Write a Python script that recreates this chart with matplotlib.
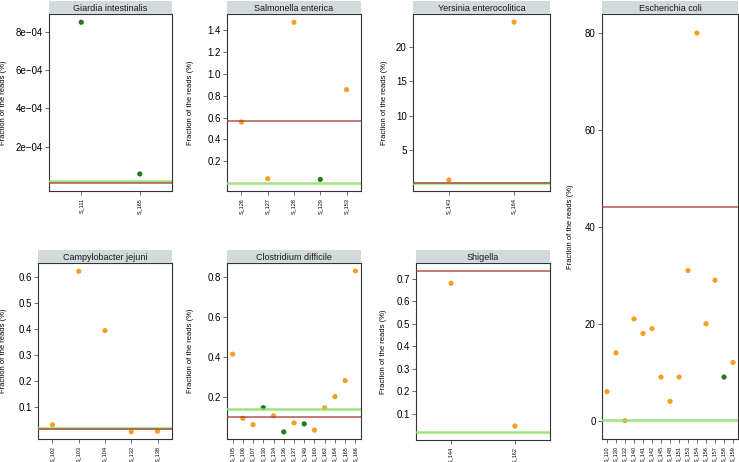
import matplotlib.pyplot as plt
from matplotlib.ticker import FuncFormatter

plt.rcParams['font.family'] = ['Liberation Sans', 'DejaVu Sans']

W, H = 739, 462

# colours
orange = '#f5a024'
dkgreen = '#237a1d'
red_col = '#a8392e'
green_col = '#8ee06a'
strip_col = '#d3dadb'

# ---- data (values in % of reads) ----
giardia_samples = ['S_111', 'S_165']
giardia_values = [8.49e-4, 0.58e-4]
giardia_groups = ['g', 'g']
giardia_red, giardia_green = 0.13e-4, 0.2e-4

salmonella_samples = ['S_126', 'S_127', 'S_128', 'S_129', 'S_153']
salmonella_values = [0.559, 0.041, 1.47, 0.035, 0.855]
salmonella_groups = ['o', 'o', 'o', 'g', 'o']
salmonella_red, salmonella_green = 0.571, 0.004

yersinia_samples = ['S_143', 'S_164']
yersinia_values = [0.56, 23.7]
yersinia_groups = ['o', 'o']
yersinia_red, yersinia_green = 0.17, 0.12

ecoli_samples = ['S_110', 'S_130', 'S_132', 'S_140', 'S_141', 'S_142', 'S_145', 'S_148',
                 'S_151', 'S_153', 'S_154', 'S_156', 'S_157', 'S_158', 'S_159']
ecoli_values = [6, 14, 0, 21, 18, 19, 9, 4, 9, 31, 80, 20, 29, 9, 12]
ecoli_groups = ['o'] * 13 + ['g', 'o']
ecoli_red, ecoli_green = 44.2, 0.1

campy_samples = ['S_102', 'S_103', 'S_104', 'S_132', 'S_138']
campy_values = [0.030, 0.623, 0.394, 0.003, 0.005]
campy_groups = ['o'] * 5
campy_red, campy_green = 0.014, 0.016

clostr_samples = ['S_105', 'S_106', 'S_107', 'S_130', 'S_134', 'S_136', 'S_137',
                  'S_149', 'S_160', 'S_162', 'S_164', 'S_165', 'S_166']
clostr_values = [0.415, 0.095, 0.063, 0.148, 0.107, 0.027, 0.072, 0.067, 0.036,
                 0.147, 0.203, 0.283, 0.83]
clostr_groups = ['o', 'o', 'o', 'g', 'o', 'g', 'o', 'g', 'o', 'o', 'o', 'o', 'o']
clostr_red, clostr_green = 0.1015, 0.1415

shigella_samples = ['S_144', 'S_162']
shigella_values = [0.68, 0.045]
shigella_groups = ['o', 'o']
shigella_red, shigella_green = 0.734, 0.02

# panel: title, data, pixel box (x0, x1, ytop, ybottom), ylim, yticks, tick format, ylabel x
panels = [
    ('Giardia intestinalis', giardia_samples, giardia_values, giardia_groups, giardia_red, giardia_green,
     (49, 172, 14, 191), (-0.31e-4, 8.92e-4), [2e-4, 4e-4, 6e-4, 8e-4], 'e', 7),
    ('Salmonella enterica', salmonella_samples, salmonella_values, salmonella_groups, salmonella_red, salmonella_green,
     (227, 361, 14, 191), (-0.071, 1.546), [0.2, 0.4, 0.6, 0.8, 1.0, 1.2, 1.4], '1f', 194),
    ('Yersinia enterocolitica', yersinia_samples, yersinia_values, yersinia_groups, yersinia_red, yersinia_green,
     (413, 550, 14, 191), (-1.05, 24.88), [5, 10, 15, 20], 'd', 388),
    ('Escherichia coli', ecoli_samples, ecoli_values, ecoli_groups, ecoli_red, ecoli_green,
     (602, 738, 14, 439), (-3.78, 83.94), [0, 20, 40, 60, 80], 'd', 574),
    ('Campylobacter jejuni', campy_samples, campy_values, campy_groups, campy_red, campy_green,
     (38, 172, 263, 439), (-0.025, 0.655), [0.1, 0.2, 0.3, 0.4, 0.5, 0.6], '1f', 7),
    ('Clostridium difficile', clostr_samples, clostr_values, clostr_groups, clostr_red, clostr_green,
     (227, 361, 263, 439), (-0.0085, 0.87), [0.2, 0.4, 0.6, 0.8], '1f', 194),
    ('Shigella', shigella_samples, shigella_values, shigella_groups, shigella_red, shigella_green,
     (416, 550, 263, 440), (-0.017, 0.77), [0.1, 0.2, 0.3, 0.4, 0.5, 0.6, 0.7], '1f', 387),
]

fmts = {
    'e': lambda v, p: f'{v:.0e}'.replace('-', '\u2212'),
    '1f': lambda v, p: f'{v:.1f}',
    'd': lambda v, p: f'{v:.0f}',
}

fig = plt.figure(figsize=(W / 100, H / 100), dpi=100)

for title, samples, values, groups, red_v, green_v, box, ylim, yticks, fmt, ylab_x in panels:
    x0, x1, yt, yb = box
    ax = fig.add_axes([x0 / W, 1 - yb / H, (x1 - x0) / W, (yb - yt) / H])
    xs = list(range(len(samples)))
    cols = [orange if g == 'o' else dkgreen for g in groups]
    ax.scatter(xs, values, s=14, c=cols, linewidths=0, zorder=2)
    ax.axhline(green_v, color=green_col, lw=1.8, alpha=0.85, zorder=3)
    ax.axhline(red_v, color=red_col, lw=1.1, alpha=0.85, zorder=3)
    ax.set_xlim(-0.55, len(samples) - 0.45)
    ax.set_ylim(*ylim)
    ax.set_xticks(xs)
    ax.set_xticklabels(samples, rotation=90, fontsize=4)
    ax.set_yticks(yticks)
    ax.yaxis.set_major_formatter(FuncFormatter(fmts[fmt]))
    ax.tick_params(axis='y', labelsize=7, length=3, width=0.6, color='#555555', pad=1.5)
    ax.tick_params(axis='x', length=3, width=0.6, color='#555555', pad=2)
    for sp in ax.spines.values():
        sp.set_color('#333333')
        sp.set_linewidth(0.8)
    ax.set_ylabel('Fraction of the reads (%)', fontsize=5.5)
    ax.yaxis.set_label_coords((ylab_x - x0) / (x1 - x0), 0.5)

    # facet strip
    sax = fig.add_axes([x0 / W, 1 - yt / H, (x1 - x0) / W, 13 / H])
    sax.set_facecolor(strip_col)
    sax.set_xticks([])
    sax.set_yticks([])
    for sp in sax.spines.values():
        sp.set_visible(False)
    sax.text(0.5, 0.45, title, ha='center', va='center', fontsize=6.5, color='#1a1a1a',
             transform=sax.transAxes)

fig.savefig('out.png', dpi=100)
